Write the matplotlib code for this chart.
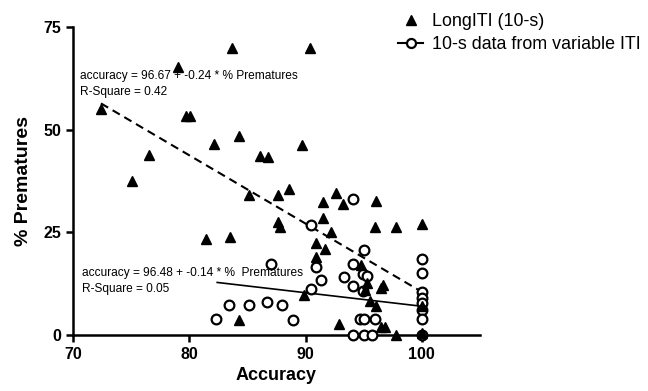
import numpy as np
import matplotlib
matplotlib.use("Agg")
import matplotlib.pyplot as plt
from matplotlib.lines import Line2D

plt.rcParams["font.family"] = ["Liberation Sans", "DejaVu Sans"]

# LongITI (10-s): accuracy vs % premature
long_acc = [72.4, 75.1, 76.5, 79.0, 79.7, 80.1, 82.1, 83.7, 84.3, 86.1, 86.8, 89.7,
            90.4, 88.6, 85.1, 87.6, 87.6, 87.8, 81.4, 83.5, 84.3, 92.6, 91.5, 93.2,
            96.1, 91.5, 96.0, 97.8, 100.0, 92.2, 90.9, 91.7, 90.9, 94.8, 95.3, 95.1,
            96.7, 96.5, 89.9, 95.5, 96.1, 92.9, 96.5, 96.8, 97.8, 100.0, 100.0]
long_prem = [55.1, 37.4, 43.8, 65.3, 53.3, 53.3, 46.6, 69.8, 48.4, 43.6, 43.4, 46.2,
             70.0, 35.5, 34.1, 34.1, 27.6, 26.4, 23.4, 23.9, 3.6, 34.5, 32.3, 31.9,
             32.6, 28.4, 26.2, 26.2, 27.0, 25.1, 22.5, 20.9, 19.1, 17.0, 12.6, 10.9,
             12.2, 11.4, 9.7, 8.3, 7.1, 2.8, 2.0, 2.0, 0.0, 7.0, 0.5]

# 10-s trials taken from the variable ITI sessions
var_acc = [82.3, 83.4, 85.1, 86.7, 87.0, 88.0, 88.9, 90.5, 90.9, 90.5, 91.3, 93.3,
           94.1, 95.0, 94.1, 94.9, 95.3, 94.1, 94.9, 94.7, 95.0, 96.0, 94.1, 95.0,
           95.7, 100.0, 100.0, 100.0, 100.0, 100.0, 100.0, 100.0, 100.0]
var_prem = [3.9, 7.3, 7.3, 8.0, 17.2, 7.3, 3.6, 26.8, 16.6, 11.1, 13.4, 14.2,
            33.2, 20.7, 17.3, 14.8, 14.4, 11.9, 10.8, 4.0, 3.9, 4.0, 0.0, 0.0,
            0.0, 18.4, 15.2, 10.5, 9.0, 7.7, 6.1, 3.9, 0.0]

# fitted lines, endpoints as drawn
fit_long_x = [72.4, 100.0]
fit_long_y = [56.4, 10.5]
fit_var_x = [82.4, 100.0]
fit_var_y = [12.8, 7.0]

eq_long = ["accuracy = 96.67 + -0.24 * % Prematures", "R-Square = 0.42"]
eq_var = ["accuracy = 96.48 + -0.14 * %  Prematures", "R-Square = 0.05"]

fig = plt.figure(figsize=(6.48, 3.91), dpi=100)
ax = fig.add_axes([0.1127, 0.1432, 0.628, 0.7877])

ax.plot(fit_long_x, fit_long_y, color="black", lw=1.5, ls=(0, (4, 2.5)))
ax.plot(fit_var_x, fit_var_y, color="black", lw=1.2)
ax.plot(var_acc, var_prem, "o", ms=7, mfc="white", mec="black", mew=1.6,
        ls="none", clip_on=False, zorder=3)
ax.plot(long_acc, long_prem, "^", ms=7.5, color="black", ls="none",
        clip_on=False, zorder=4)

ax.text(70.6, 63.0, eq_long[0], fontsize=8.6, va="center", ha="left")
ax.text(70.6, 59.2, eq_long[1], fontsize=8.6, va="center", ha="left")
ax.text(70.75, 15.0, eq_var[0], fontsize=8.6, va="center", ha="left")
ax.text(70.75, 11.1, eq_var[1], fontsize=8.6, va="center", ha="left")

ax.set_xlim(70, 105)
ax.set_ylim(0, 75)
ax.set_xticks([70, 80, 90, 100])
ax.set_yticks([0, 25, 50, 75])
for s in ["top", "right"]:
    ax.spines[s].set_visible(False)
for s in ["left", "bottom"]:
    ax.spines[s].set_linewidth(1.8)
ax.tick_params(width=1.8, length=5, labelsize=11.5)
for lab in ax.get_xticklabels() + ax.get_yticklabels():
    lab.set_fontweight("bold")
ax.set_xlabel("Accuracy", fontsize=13, fontweight="bold", labelpad=4)
ax.set_ylabel("% Prematures", fontsize=14, fontweight="bold", labelpad=8)

handles = [
    Line2D([], [], marker="^", color="black", ls="none", ms=7),
    Line2D([], [], marker="o", color="black", mfc="white", mew=1.6, ms=6.5, lw=1.5),
]
fig.legend(handles, ["LongITI (10-s)", "10-s data from variable ITI"],
           loc="upper left", bbox_to_anchor=(0.59, 1.008), frameon=False,
           fontsize=12.9, handlelength=1.35, handletextpad=0.55, labelspacing=0.35)

fig.savefig("out.png", dpi=100)
